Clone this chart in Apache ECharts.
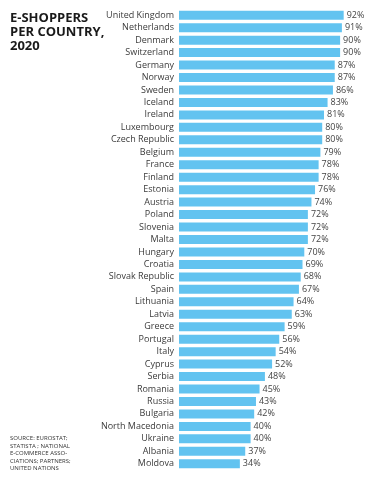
<!DOCTYPE html>
<html>
<head>
<meta charset="utf-8">
<script src="https://cdn.jsdelivr.net/npm/echarts@6/dist/echarts.min.js"></script>
<style>
    html, body {
        margin: 0;
        padding: 0;
        background: #fff;
    }

    #chart {
        width: 376px;
        height: 478px;
    }
</style>
</head>
<body>
<div id="chart"></div>
<script>
    // 国家（从上到下）
    var countries = ['United Kingdom', 'Netherlands', 'Denmark', 'Switzerland', 'Germany', 'Norway',
        'Sweden', 'Iceland', 'Ireland', 'Luxembourg', 'Czech Republic', 'Belgium', 'France', 'Finland',
        'Estonia', 'Austria', 'Poland', 'Slovenia', 'Malta', 'Hungary', 'Croatia', 'Slovak Republic',
        'Spain', 'Lithuania', 'Latvia', 'Greece', 'Portugal', 'Italy', 'Cyprus', 'Serbia', 'Romania',
        'Russia', 'Bulgaria', 'North Macedonia', 'Ukraine', 'Albania', 'Moldova'];
    // 网购者比例 %
    var shares = [92, 91, 90, 90, 87, 87, 86, 83, 81, 80, 80, 79, 78, 78, 76, 74, 72, 72, 72, 70, 69, 68,
        67, 64, 63, 59, 56, 54, 52, 48, 45, 43, 42, 40, 40, 37, 34];
    var titleLines = ['E-SHOPPERS', 'PER COUNTRY,', '2020'];
    var sourceLines = ['SOURCE: EUROSTAT;', 'STATISTA ; NATIONAL', 'E-COMMERCE ASSO-', 'CIATIONS; PARTNERS;', 'UNITED NATIONS'];

    var myChart = echarts.init(document.getElementById('chart'));
    var option = {
        backgroundColor: '#fff',
        textStyle: {
            fontFamily: 'Open Sans'
        },
        title: [{
            text: titleLines.join('\n'),
            left: 5,
            top: 6,
            textStyle: {
                fontSize: 13,
                fontWeight: 'bold',
                color: '#1a1a1a',
                lineHeight: 14,
                fontFamily: 'Open Sans'
            }
        }, {
            text: sourceLines.join('\n'),
            left: 5,
            top: 430,
            textStyle: {
                fontSize: 6,
                fontWeight: 'normal',
                color: '#333',
                lineHeight: 7.5,
                fontFamily: 'Open Sans'
            }
        }],
        grid: {
            left: 179,
            right: 18,
            top: 9,
            bottom: 8
        },
        xAxis: {
            type: 'value',
            min: 0,
            max: 100,
            show: false
        },
        yAxis: {
            type: 'category',
            inverse: true,
            data: countries,
            axisLine: { show: false },
            axisTick: { show: false },
            axisLabel: {
                margin: 5,
                fontSize: 9,
                color: '#3a3a3a',
                fontFamily: 'Open Sans'
            }
        },
        series: [{
            type: 'bar',
            data: shares,
            barWidth: 9,
            itemStyle: {
                color: '#62c3f0'
            },
            label: {
                show: true,
                position: 'right',
                distance: 3,
                formatter: '{c}%',
                fontSize: 9,
                color: '#444',
                fontFamily: 'Open Sans'
            },
            animation: false
        }]
    };
    myChart.setOption(option);
</script>
</body>
</html>
